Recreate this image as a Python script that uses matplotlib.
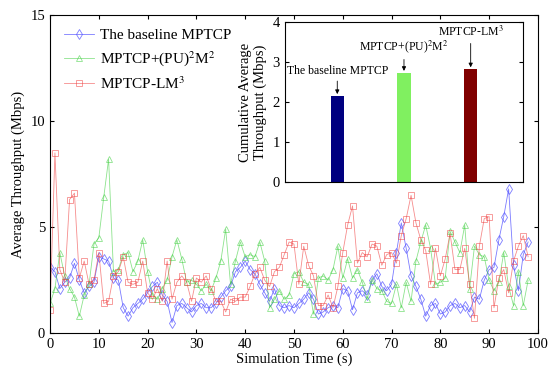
import numpy as np
import matplotlib
matplotlib.use('Agg')
import matplotlib.pyplot as plt

plt.rcParams['font.family'] = ['Liberation Serif', 'DejaVu Serif']
plt.rcParams['mathtext.fontset'] = 'stix'
plt.rcParams['font.size'] = 9.5

# simulation time (s)
t = np.arange(0, 99)

baseline = [3.1, 2.9, 2.1, 2.4, 2.6, 3.3, 2.5, 1.9, 2.2, 2.4,
            3.6, 3.5, 3.4, 2.6, 2.5, 1.2, 0.8, 1.2, 1.4, 1.6,
            1.9, 2.2, 2.4, 1.8, 1.5, 0.5, 1.3, 1.4, 1.2, 1.0,
            1.3, 1.4, 1.2, 1.2, 1.4, 1.7, 2.0, 2.2, 2.9, 3.1,
            3.4, 3.0, 2.8, 2.3, 1.9, 1.5, 2.1, 1.3, 1.2, 1.3,
            1.2, 1.4, 1.6, 1.9, 1.6, 0.9, 1.0, 1.2, 1.3, 1.2,
            2.1, 2.0, 1.1, 1.9, 2.0, 1.8, 2.5, 2.8, 2.2, 2.0,
            2.3, 3.8, 5.2, 4.0, 2.7, 2.2, 1.6, 0.8, 1.3, 1.4,
            0.9, 1.0, 1.3, 1.4, 1.2, 1.3, 1.0, 1.7, 1.6, 2.5,
            3.0, 3.1, 4.4, 5.5, 6.8, 3.2, 2.0, 3.7, 4.3]

pu2m2 = [1.4, 2.1, 3.8, 2.7, 2.1, 1.7, 0.8, 1.8, 2.3, 4.2,
         4.5, 6.4, 8.2, 2.9, 3.0, 3.7, 3.8, 2.9, 3.4, 4.4,
         2.9, 1.8, 1.6, 2.1, 2.5, 3.6, 4.4, 3.5, 2.4, 2.5,
         2.3, 2.0, 2.3, 2.0, 2.6, 3.4, 4.9, 2.3, 3.4, 4.3,
         3.6, 3.7, 3.6, 4.3, 3.4, 1.2, 1.6, 2.0, 1.6, 1.8,
         2.8, 2.9, 2.4, 2.3, 0.9, 2.6, 2.7, 2.5, 3.0, 4.1,
         2.6, 3.5, 2.6, 3.0, 2.4, 1.6, 2.5, 2.1, 2.0, 1.5,
         1.4, 2.3, 1.2, 2.4, 1.5, 3.4, 4.3, 5.1, 4.0, 2.3,
         2.4, 2.6, 4.8, 4.3, 3.8, 5.1, 2.1, 4.1, 3.7, 3.6,
         2.5, 2.0, 2.4, 3.8, 2.2, 1.3, 2.9, 1.3, 2.5]

lm3 = [1.1, 8.5, 3.0, 2.4, 6.3, 6.6, 2.6, 3.4, 2.3, 2.5,
       3.8, 1.4, 1.5, 2.7, 2.9, 3.6, 2.4, 2.3, 2.4, 3.4,
       1.9, 1.6, 2.1, 1.5, 3.4, 1.6, 2.4, 2.7, 2.4, 1.5,
       2.6, 2.4, 2.7, 2.1, 1.5, 1.5, 1.0, 1.6, 1.5, 1.7,
       1.7, 2.2, 2.8, 3.1, 2.5, 2.2, 2.9, 3.1, 3.7, 4.3,
       4.2, 2.3, 4.1, 3.2, 2.7, 1.3, 1.3, 1.8, 1.2, 2.2,
       3.8, 5.1, 6.0, 3.3, 3.8, 3.6, 4.2, 4.1, 3.2, 3.7,
       3.8, 3.3, 4.6, 5.4, 6.5, 5.2, 4.4, 3.9, 2.3, 4.0,
       2.7, 3.5, 4.7, 3.0, 3.0, 4.0, 2.3, 0.7, 4.1, 5.4,
       5.5, 1.2, 2.6, 3.0, 1.9, 3.4, 4.1, 4.6, 3.6]

schemes = [1, 2, 3]
cum_avg = [2.15, 2.73, 2.82]
bar_colors = ['#000080', '#80f060', '#800000']
bar_labels = ['The baseline MPTCP', 'MPTCP+(PU)$^2$M$^2$', 'MPTCP-LM$^3$']

fig = plt.figure(figsize=(5.5, 3.76), dpi=100)
ax = fig.add_axes([0.091, 0.114, 0.887, 0.846])

ax.plot(t, baseline, '-d', color='#5a5aff', lw=0.6, ms=5, mfc='none',
        mew=0.6, alpha=0.8, label='The baseline MPTCP')
ax.plot(t, pu2m2, '-^', color='#40d040', lw=0.6, ms=5, mfc='none',
        mew=0.6, alpha=0.6, label='MPTCP+(PU)$^2$M$^2$')
ax.plot(t, lm3, '-s', color='#f04040', lw=0.6, ms=5, mfc='none',
        mew=0.6, alpha=0.6, label='MPTCP-LM$^3$')

ax.set_xlim(0, 100)
ax.set_ylim(0, 15)
ax.set_xticks(range(0, 101, 10))
ax.set_yticks([0, 5, 10, 15])
ax.tick_params(direction='in', top=True, right=True, labelsize=10.5, length=3)
ax.set_xlabel('Simulation Time (s)', fontsize=10.5, labelpad=1)
ax.set_ylabel('Average Throughput (Mbps)', fontsize=10.5, labelpad=4)
ax.legend(loc='upper left', frameon=False, fontsize=11, handlelength=2.0,
          handletextpad=0.4, borderaxespad=0.5, labelspacing=0.45)

# inset with cumulative averages
ins = fig.add_axes([0.518, 0.516, 0.433, 0.425])
ins.bar(schemes, cum_avg, width=0.2, color=bar_colors)
ins.set_xlim(0.215, 3.785)
ins.set_ylim(0, 4)
ins.set_yticks([0, 1, 2, 3, 4])
ins.set_xticks([])
ins.tick_params(direction='in', right=True, labelsize=10.5, length=3)
ins.set_ylabel('Cumulative Average\nThroughput (Mbps)', fontsize=10.5,
               labelpad=4)

text_y = [2.78, 3.38, 3.75]
for x, v, ty, lab in zip(schemes, cum_avg, text_y, bar_labels):
    ins.annotate(lab, xy=(x, v + 0.05), xytext=(x, ty), ha='center',
                 va='center', fontsize=8.5,
                 arrowprops=dict(arrowstyle='-|>', color='k', lw=0.6,
                                 mutation_scale=6, shrinkA=1, shrinkB=0))

fig.savefig('out.png', dpi=100)
